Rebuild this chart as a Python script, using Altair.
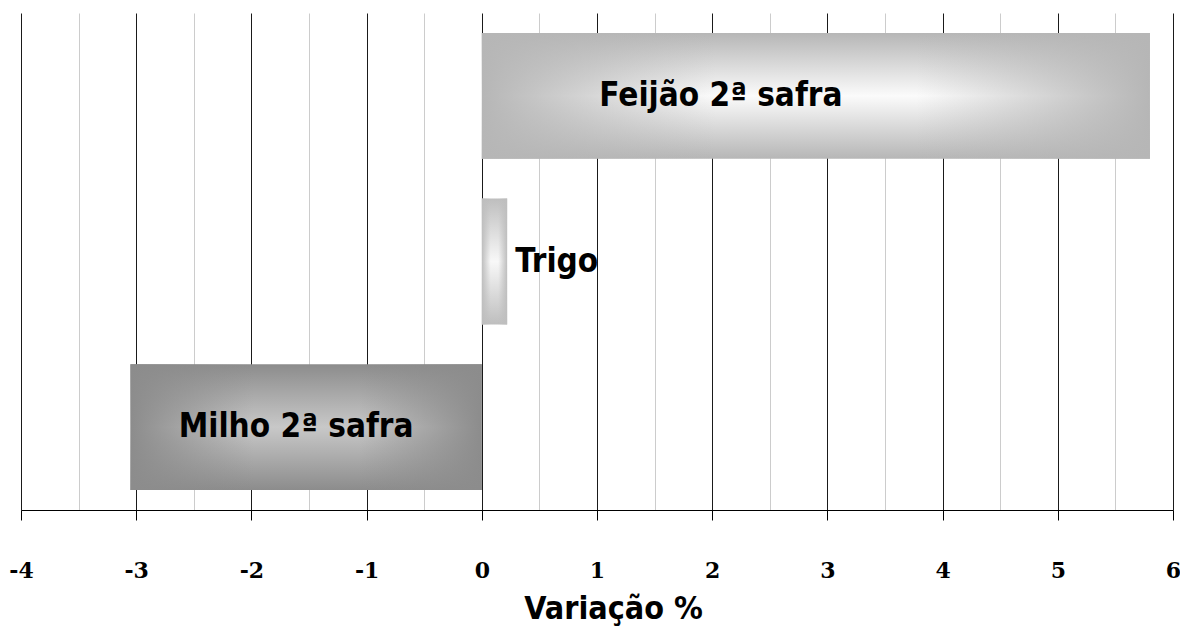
import altair as alt
import pandas as pd

categories = ["Feijão 2ª safra", "Trigo", "Milho 2ª safra"]
values = [5.8, 0.22, -3.05]
edge_rgb = [(182, 182, 182), (190, 190, 190), (140, 140, 140)]
center_colors = ["#fbfbfb", "#f8f8f8", "#c8c8c8"]
tick_values = [-4, -3.5, -3, -2.5, -2, -1.5, -1, -0.5, 0, 0.5, 1, 1.5, 2,
               2.5, 3, 3.5, 4, 4.5, 5, 5.5, 6]

df = pd.DataFrame({
    "cat": categories,
    "value": values,
    "zero": [0.0] * len(values),
})
df["mid"] = df["value"] / 2

FONT = "Liberation Sans Narrow, Arial Narrow, DejaVu Sans Condensed, sans-serif"
major = "datum.value % 1 === 0"

x_scale = alt.Scale(domain=[-4, 6], nice=False, zero=False)
y_enc = alt.Y("cat:N", sort=categories,
              scale=alt.Scale(paddingInner=0.24, paddingOuter=0.12), axis=None)

x_axis = alt.Axis(
    values=tick_values,
    title="Variação %",
    titleFont=FONT, titleFontSize=32, titleFontWeight="bold", titleColor="black",
    titleBaseline="alphabetic", titleY=108, titleX=592,
    labelExpr="datum.value % 1 === 0 ? '' + datum.value : ''",
    labelFont="DejaVu Serif", labelFontSize=22, labelFontWeight="bold",
    labelColor="black", labelPadding=40, labelFlush=False, labelOverlap=False,
    tickSize=10, tickColor="black",
    tickOpacity={"condition": {"test": major, "value": 1}, "value": 0},
    grid=True,
    gridColor={"condition": {"test": major, "value": "#1a1a1a"}, "value": "#cccccc"},
    gridWidth=1,
    domainColor="black", domainWidth=1,
)


def xq(field):
    return alt.X(f"{field}:Q", scale=x_scale, axis=x_axis, title="Variação %")


base = alt.Chart(df)
layers = []
for i, cat in enumerate(categories):
    r, g, b = edge_rgb[i]
    edge = f"rgb({r},{g},{b})"
    edge0 = f"rgba({r},{g},{b},0)"
    vert = alt.LinearGradient(
        gradient="linear",
        stops=[alt.GradientStop(color=edge, offset=0),
               alt.GradientStop(color=center_colors[i], offset=0.5),
               alt.GradientStop(color=edge, offset=1)],
        x1=0, x2=0, y1=0, y2=1)
    horiz = alt.LinearGradient(
        gradient="linear",
        stops=[alt.GradientStop(color=edge, offset=0),
               alt.GradientStop(color=edge0, offset=0.35),
               alt.GradientStop(color=edge0, offset=0.65),
               alt.GradientStop(color=edge, offset=1)],
        x1=0, x2=1, y1=0, y2=0)
    filt = base.transform_filter(alt.datum.cat == cat)
    layers.append(filt.mark_bar(fill=vert, strokeWidth=0).encode(
        x=xq("value"), x2="zero:Q", y=y_enc))
    layers.append(filt.mark_bar(fill=horiz, strokeWidth=0).encode(
        x=xq("value"), x2="zero:Q", y=y_enc))

text_style = dict(font=FONT, fontSize=33, fontWeight="bold", color="black",
                  baseline="middle")
t_feijao = base.transform_filter(alt.datum.cat == categories[0]).mark_text(
    align="center", dx=-95, **text_style).encode(
    x=xq("mid"), y=y_enc, text="cat:N")
t_trigo = base.transform_filter(alt.datum.cat == categories[1]).mark_text(
    align="left", dx=8, **text_style).encode(
    x=xq("value"), y=y_enc, text="cat:N")
t_milho = base.transform_filter(alt.datum.cat == categories[2]).mark_text(
    align="center", dx=-10, **text_style).encode(
    x=xq("mid"), y=y_enc, text="cat:N")

chart = alt.layer(*layers, t_feijao, t_trigo, t_milho).properties(
    width=1152, height=497,
    autosize=alt.AutoSizeParams(type="none"),
    padding={"left": 13, "top": 5, "right": 7, "bottom": 118},
).configure_view(stroke=None)

chart.save("out.html", embed_options={"renderer": "svg", "actions": False})
